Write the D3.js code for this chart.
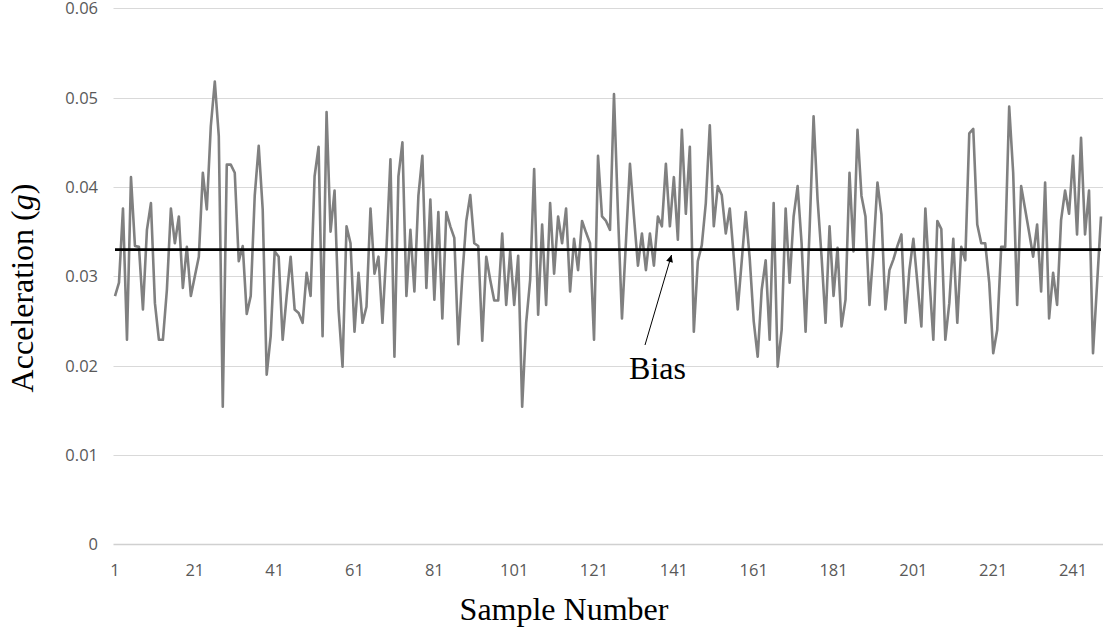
<!DOCTYPE html>
<html>
<head>
<meta charset="utf-8">
<script src="https://cdn.jsdelivr.net/npm/d3@7"></script>
<style>
  html, body { margin: 0; padding: 0; background: #ffffff; }
  svg { display: block; }
</style>
</head>
<body>
<svg id="chart" width="1107" height="634"></svg>
<script>
// ---- data ----
const acceleration = [
  0.0278, 0.0293, 0.0376, 0.0229, 0.0411, 0.0334, 0.0333, 0.0263, 0.0352, 0.0382,
  0.0270, 0.0229, 0.0229, 0.0285, 0.0376, 0.0337, 0.0367, 0.0287, 0.0333, 0.0278,
  0.0300, 0.0322, 0.0416, 0.0375, 0.0468, 0.0518, 0.0457, 0.0154, 0.0425, 0.0425,
  0.0416, 0.0317, 0.0334, 0.0258, 0.0278, 0.0390, 0.0446, 0.0375, 0.0190, 0.0233,
  0.0328, 0.0322, 0.0229, 0.0278, 0.0322, 0.0263, 0.0259, 0.0248, 0.0304, 0.0278,
  0.0412, 0.0445, 0.0233, 0.0484, 0.0350, 0.0396, 0.0263, 0.0199, 0.0356, 0.0337,
  0.0238, 0.0304, 0.0248, 0.0266, 0.0376, 0.0303, 0.0322, 0.0248, 0.0330, 0.0431,
  0.0210, 0.0412, 0.0450, 0.0278, 0.0352, 0.0283, 0.0390, 0.0435, 0.0287, 0.0386,
  0.0274, 0.0372, 0.0253, 0.0372, 0.0356, 0.0343, 0.0224, 0.0300, 0.0362, 0.0391,
  0.0337, 0.0334, 0.0228, 0.0322, 0.0296, 0.0273, 0.0273, 0.0348, 0.0268, 0.0328,
  0.0268, 0.0323, 0.0154, 0.0248, 0.0296, 0.0420, 0.0257, 0.0358, 0.0268, 0.0382,
  0.0303, 0.0367, 0.0337, 0.0376, 0.0283, 0.0342, 0.0307, 0.0362, 0.0349, 0.0337,
  0.0229, 0.0435, 0.0367, 0.0362, 0.0352, 0.0504, 0.0370, 0.0253, 0.0339, 0.0426,
  0.0367, 0.0312, 0.0348, 0.0307, 0.0348, 0.0312, 0.0367, 0.0356, 0.0426, 0.0356,
  0.0411, 0.0341, 0.0464, 0.0370, 0.0445, 0.0238, 0.0317, 0.0335, 0.0382, 0.0469,
  0.0356, 0.0401, 0.0391, 0.0348, 0.0376, 0.0322, 0.0263, 0.0317, 0.0372, 0.0320,
  0.0250, 0.0210, 0.0285, 0.0318, 0.0229, 0.0382, 0.0199, 0.0240, 0.0376, 0.0293,
  0.0367, 0.0401, 0.0337, 0.0238, 0.0352, 0.0479, 0.0386, 0.0322, 0.0248, 0.0356,
  0.0278, 0.0332, 0.0244, 0.0274, 0.0416, 0.0328, 0.0464, 0.0390, 0.0367, 0.0268,
  0.0330, 0.0405, 0.0369, 0.0263, 0.0307, 0.0319, 0.0334, 0.0347, 0.0248, 0.0307,
  0.0342, 0.0293, 0.0244, 0.0376, 0.0298, 0.0229, 0.0362, 0.0353, 0.0229, 0.0270,
  0.0342, 0.0248, 0.0333, 0.0318, 0.0460, 0.0465, 0.0358, 0.0337, 0.0337, 0.0293,
  0.0214, 0.0240, 0.0333, 0.0333, 0.0490, 0.0416, 0.0268, 0.0401, 0.0375, 0.0349,
  0.0322, 0.0358, 0.0283, 0.0405, 0.0253, 0.0304, 0.0268, 0.0363, 0.0396, 0.0370,
  0.0435, 0.0347, 0.0455, 0.0347, 0.0396, 0.0214, 0.0290, 0.0367
];
const sampleNumbers = d3.range(1, acceleration.length + 1);
const biasValue = 0.033;
const yTicks = [0, 0.01, 0.02, 0.03, 0.04, 0.05, 0.06];
const yTickLabels = ["0", "0.01", "0.02", "0.03", "0.04", "0.05", "0.06"];
const xTickLabels = [1, 21, 41, 61, 81, 101, 121, 141, 161, 181, 201, 221, 241];
const xTitle = "Sample Number";
const yTitleMain = "Acceleration (";
const yTitleItalic = "g";
const yTitleEnd = ")";
const annotationText = "Bias";

// ---- layout ----
const svg = d3.select("#chart");
const plotLeft = 113.5, plotRight = 1103;
const x = d3.scaleLinear().domain([1, acceleration.length]).range([115, 1101]);
const y = d3.scaleLinear().domain([0, 0.06]).range([544.4, 8.3]);

// gridlines
svg.append("g").selectAll("line")
  .data(yTicks.filter(d => d > 0))
  .join("line")
  .attr("x1", plotLeft).attr("x2", plotRight)
  .attr("y1", d => Math.round(y(d)) + 0.5).attr("y2", d => Math.round(y(d)) + 0.5)
  .attr("stroke", "#d9d9d9").attr("stroke-width", 1);

// x axis baseline
svg.append("line")
  .attr("x1", plotLeft).attr("x2", plotRight)
  .attr("y1", y(0)).attr("y2", y(0))
  .attr("stroke", "#d0d0d0").attr("stroke-width", 1.5);

// y tick labels
svg.append("g").selectAll("text")
  .data(yTicks)
  .join("text")
  .attr("x", 98)
  .attr("y", d => y(d))
  .attr("dy", "0.36em")
  .attr("text-anchor", "end")
  .attr("font-family", "'Open Sans', sans-serif")
  .attr("font-size", 16.5)
  .attr("fill", "#595959")
  .text((d, i) => yTickLabels[i]);

// x tick labels
svg.append("g").selectAll("text")
  .data(xTickLabels)
  .join("text")
  .attr("x", d => x(d))
  .attr("y", 576)
  .attr("text-anchor", "middle")
  .attr("font-family", "'Open Sans', sans-serif")
  .attr("font-size", 16.5)
  .attr("fill", "#595959")
  .text(d => d);

// data line
const line = d3.line()
  .x((d, i) => x(sampleNumbers[i]))
  .y(d => y(d));
svg.append("path")
  .datum(acceleration)
  .attr("d", line)
  .attr("fill", "none")
  .attr("stroke", "#808080")
  .attr("stroke-width", 2.6)
  .attr("stroke-linejoin", "round");

// bias line
svg.append("path")
  .datum(sampleNumbers)
  .attr("d", d3.line().x(d => x(d)).y(() => y(biasValue)))
  .attr("fill", "none")
  .attr("stroke", "#000000")
  .attr("stroke-width", 2.8);

// annotation arrow
const defs = svg.append("defs");
defs.append("marker")
  .attr("id", "arrowhead")
  .attr("viewBox", "0 0 10 10")
  .attr("refX", 10).attr("refY", 5)
  .attr("markerWidth", 9).attr("markerHeight", 7)
  .attr("markerUnits", "userSpaceOnUse")
  .attr("orient", "auto")
  .append("path")
  .attr("d", "M0,0 L10,5 L0,10 z")
  .attr("fill", "#000");

svg.append("line")
  .attr("x1", 645).attr("y1", 345)
  .attr("x2", 671.5).attr("y2", 255)
  .attr("stroke", "#000").attr("stroke-width", 1)
  .attr("marker-end", "url(#arrowhead)");

svg.append("text")
  .attr("x", 657.5).attr("y", 379)
  .attr("text-anchor", "middle")
  .attr("font-family", "'Liberation Serif', 'Times New Roman', serif")
  .attr("font-size", 32)
  .attr("fill", "#000")
  .text(annotationText);

// axis titles
svg.append("text")
  .attr("x", 564).attr("y", 620)
  .attr("text-anchor", "middle")
  .attr("font-family", "'Liberation Serif', 'Times New Roman', serif")
  .attr("font-size", 32)
  .attr("fill", "#000")
  .text(xTitle);

const yt = svg.append("text")
  .attr("transform", "translate(33,288) rotate(-90)")
  .attr("text-anchor", "middle")
  .attr("font-family", "'Liberation Serif', 'Times New Roman', serif")
  .attr("font-size", 32)
  .attr("fill", "#000");
yt.append("tspan").text(yTitleMain);
yt.append("tspan").attr("font-style", "italic").text(yTitleItalic);
yt.append("tspan").text(yTitleEnd);
</script>
</body>
</html>
